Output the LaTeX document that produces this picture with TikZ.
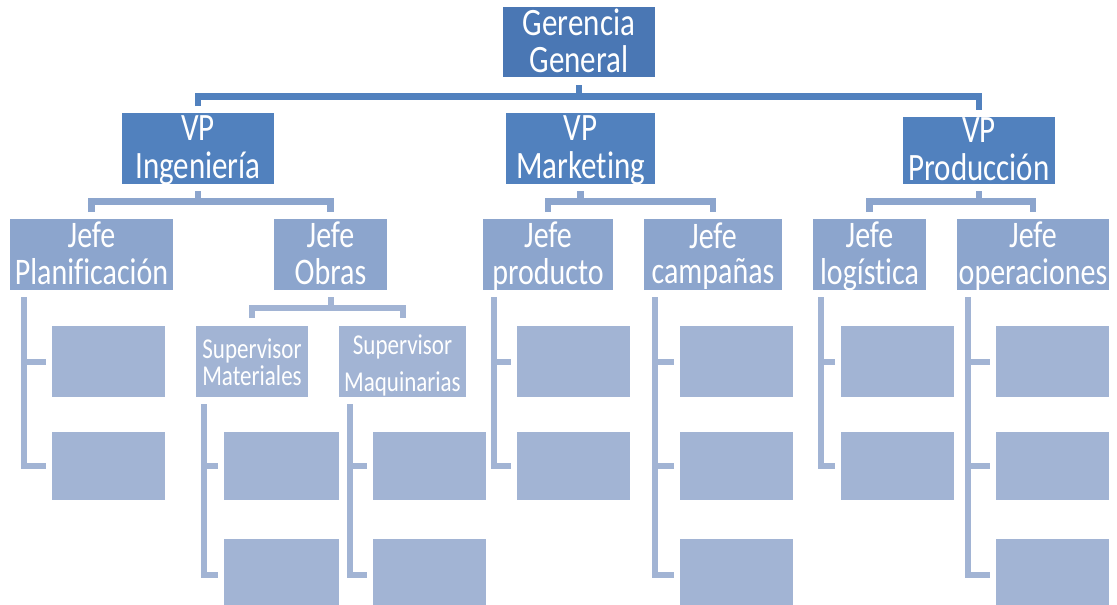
\documentclass[tikz,border=0pt]{standalone}
\usepackage{fontspec}
\setmainfont[Ligatures=NoCommon]{Carlito}
\usetikzlibrary{calc}
\definecolor{cger}{RGB}{74,119,180}
\definecolor{cvp}{RGB}{81,129,190}
\definecolor{cjefe}{RGB}{140,165,205}
\definecolor{csub}{RGB}{162,180,212}
\newcommand\lbl[3]{\scalebox{1}[1.25]{\fontsize{#1}{#2}\selectfont\begin{tabular}{@{}c@{}}#3\end{tabular}}}
\begin{document}
\begin{tikzpicture}[x=1pt,y=-1pt,
  box/.style={rectangle, inner sep=0pt, outer sep=0pt, draw=none, minimum width=#1},
  txt/.style={inner sep=0pt, outer sep=0pt, text=white, yshift=-4pt},
  c1/.style={draw=cvp, line width=6.5pt},
  c2/.style={draw=cjefe, line width=6.5pt},
  c3/.style={draw=csub, line width=6pt}]
\useasboundingbox (0,0) rectangle (1117,605);
% top
\node[box=152, minimum height=70, fill=cger] (ger) at (579,42) {};
\node[txt] (gert) at (ger) {\lbl{31}{26.4}{Gerencia\\General}};
% VPs
\node[box=152, minimum height=71, fill=cvp] (ing) at (198,148.5) {};
\node[box=149, minimum height=71, fill=cvp] (mkt) at (580.5,148.5) {};
\node[box=152, minimum height=67, fill=cvp] (pro) at (979,150.5) {};
\node[txt] (ingt) at (ing) {\lbl{31}{28.8}{VP\\Ingeniería}};
\node[txt] (mktt) at (mkt) {\lbl{31}{28.8}{VP\\Marketing}};
\node[txt] (prot) at (pro) {\lbl{31}{28.8}{VP\\Producción}};
% Jefes
\node[box=163, minimum height=71, fill=cjefe] (pl) at (91.5,254.5) {};
\node[box=113, minimum height=71, fill=cjefe] (ob) at (330.5,254.5) {};
\node[box=130, minimum height=71, fill=cjefe] (pr) at (548,254.5) {};
\node[box=138, minimum height=71, fill=cjefe] (ca) at (713,254.5) {};
\node[box=113, minimum height=71, fill=cjefe] (lo) at (869.5,254.5) {};
\node[box=152, minimum height=71, fill=cjefe] (op) at (1033,254.5) {};
\node[txt] (plt) at (pl) {\lbl{30}{28}{Jefe\\Planificación}};
\node[txt] (obt) at (ob) {\lbl{30}{28}{Jefe\\Obras}};
\node[txt] (prt) at (pr) {\lbl{30}{28}{Jefe\\producto}};
\node[txt] (cat) at (ca) {\lbl{30}{28}{Jefe\\campañas}};
\node[txt] (lot) at (lo) {\lbl{30}{28}{Jefe\\logística}};
\node[txt] (opt) at (op) {\lbl{30}{28}{Jefe\\operaciones}};
% Supervisors
\node[box=112, minimum height=71, fill=csub] (sm) at (252,361.5) {};
\node[box=127, minimum height=71, fill=csub] (sq) at (402.5,361.5) {};
\node[txt] (smt) at (sm) {\lbl{23}{19.2}{Supervisor\\Materiales}};
\node[txt] (sqt) at (sq) {\lbl{23}{29.6}{Supervisor\\Maquinarias}};
% sub boxes
\node[box=113, minimum height=71, fill=csub] (pl1) at (108.5,361.5) {};
\node[box=113, minimum height=68, fill=csub] (pl2) at (108.5,466) {};
\node[box=115, minimum height=68, fill=csub] (sm1) at (281.5,466) {};
\node[box=115, minimum height=71, fill=csub] (sm2) at (281.5,574.5) {};
\node[box=113, minimum height=68, fill=csub] (sq1) at (429.5,466) {};
\node[box=113, minimum height=71, fill=csub] (sq2) at (429.5,574.5) {};
\node[box=113, minimum height=71, fill=csub] (pr1) at (573.5,361.5) {};
\node[box=113, minimum height=68, fill=csub] (pr2) at (573.5,466) {};
\node[box=113, minimum height=71, fill=csub] (ca1) at (736.5,361.5) {};
\node[box=113, minimum height=68, fill=csub] (ca2) at (736.5,466) {};
\node[box=113, minimum height=71, fill=csub] (ca3) at (736.5,574.5) {};
\node[box=113, minimum height=71, fill=csub] (lo1) at (897.5,361.5) {};
\node[box=113, minimum height=68, fill=csub] (lo2) at (897.5,466) {};
\node[box=113, minimum height=71, fill=csub] (op1) at (1052.5,361.5) {};
\node[box=113, minimum height=68, fill=csub] (op2) at (1052.5,466) {};
\node[box=113, minimum height=71, fill=csub] (op3) at (1052.5,574.5) {};
% connectors level 1
\coordinate (bus0) at (579,96.5);
\draw[c1] ($(ger.south)+(0,8)$) -- (bus0);
\draw[c1] ($(ing.north)+(0,-7)$) |- (bus0) -| ($(pro.north)+(0,-7)$);
% level 2
\draw[c2] ($(ing.south)+(0,7)$) -- ($(ing.south)+(0,17.5)$);
\draw[c2] ($(pl.north)+(0,-7)$) |- ($(ing.south)+(0,17.5)$) -| ($(ob.north)+(0,-7)$);
\draw[c2] ($(mkt.south)+(0,7)$) -- ($(mkt.south)+(0,17.5)$);
\draw[c2] ($(pr.north)+(0,-7)$) |- ($(mkt.south)+(0,17.5)$) -| ($(ca.north)+(0,-7)$);
\draw[c2] ($(pro.south)+(0,7)$) -- ($(pro.south)+(0,17.5)$);
\draw[c2] ($(lo.north)+(0,-7)$) |- ($(pro.south)+(0,17.5)$) -| ($(op.north)+(0,-7)$);
% Obras to supervisors
\draw[c3] ($(ob.south)+(0,7)$) -- ($(ob.south)+(0,18)$);
\draw[c3] ($(sm.north)+(0,-8)$) |- ($(ob.south)+(0,18)$) -| ($(sq.north)+(0,-8)$);
% level 3
\draw[c3] ($(pl.south west)+(13.5,7)$) |- ($(pl1.west)+(-6,0)$);
\draw[c3] ($(pl.south west)+(13.5,7)$) |- ($(pl2.west)+(-6,0)$);
\draw[c3] ($(sm.south west)+(8,7)$) |- ($(sm1.west)+(-6,0)$);
\draw[c3] ($(sm.south west)+(8,7)$) |- ($(sm2.west)+(-6,0)$);
\draw[c3] ($(sq.south west)+(11,7)$) |- ($(sq1.west)+(-6,0)$);
\draw[c3] ($(sq.south west)+(11,7)$) |- ($(sq2.west)+(-6,0)$);
\draw[c3] ($(pr.south west)+(11,7)$) |- ($(pr1.west)+(-6,0)$);
\draw[c3] ($(pr.south west)+(11,7)$) |- ($(pr2.west)+(-6,0)$);
\draw[c3] ($(ca.south west)+(11,7)$) |- ($(ca1.west)+(-6,0)$);
\draw[c3] ($(ca.south west)+(11,7)$) |- ($(ca2.west)+(-6,0)$);
\draw[c3] ($(ca.south west)+(11,7)$) |- ($(ca3.west)+(-6,0)$);
\draw[c3] ($(lo.south west)+(8,7)$) |- ($(lo1.west)+(-6,0)$);
\draw[c3] ($(lo.south west)+(8,7)$) |- ($(lo2.west)+(-6,0)$);
\draw[c3] ($(op.south west)+(11,7)$) |- ($(op1.west)+(-6,0)$);
\draw[c3] ($(op.south west)+(11,7)$) |- ($(op2.west)+(-6,0)$);
\draw[c3] ($(op.south west)+(11,7)$) |- ($(op3.west)+(-6,0)$);
\end{tikzpicture}
\end{document}
